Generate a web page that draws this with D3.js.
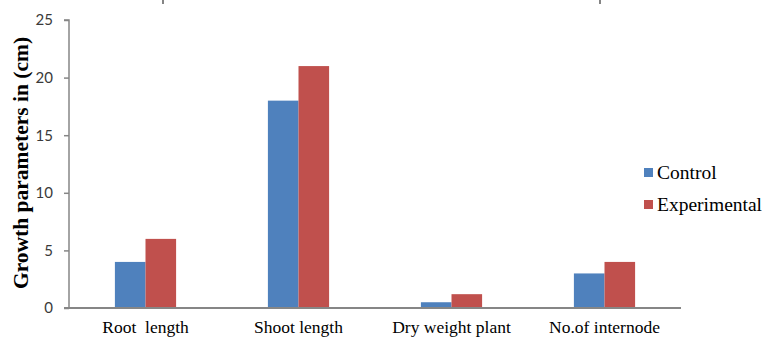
<!DOCTYPE html>
<html>
<head>
<meta charset="utf-8">
<script src="https://cdn.jsdelivr.net/npm/d3@7"></script>
<style>
  body { margin: 0; background: #fff; }
  svg { display: block; }
  .serif { font-family: 'Liberation Serif', 'Times New Roman', serif; }
</style>
</head>
<body>
<div id="chart"></div>
<script>
// chart data
let categories = ['Root  length', 'Shoot length', 'Dry weight plant', 'No.of internode'];
let seriesNames = ['Control', 'Experimental'];
let controlValues = [4, 18, 0.5, 3];
let experimentalValues = [6, 21, 1.2, 4];
let yTicks = [0, 5, 10, 15, 20, 25];

let width = 762,
  height = 338;
let margin = { top: 20, right: 81, bottom: 30, left: 69 };
let colors = ['#4f81bd', '#c0504d'];

let svg = d3.select('#chart')
  .append('svg')
  .attr('width', width)
  .attr('height', height);

// x scale for the groups, inner scale for the two series
let xScale = d3.scaleBand()
  .domain(categories)
  .range([margin.left, width - margin.right]);

let inner = d3.scaleBand()
  .domain(seriesNames)
  .range([xScale.bandwidth() * 0.3, xScale.bandwidth() * 0.7]);

let yScale = d3.scaleLinear()
  .domain([0, 25])
  .range([height - margin.bottom, margin.top]);

let rows = categories.map(function (c, i) {
  return { cat: c, values: [controlValues[i], experimentalValues[i]] };
});

// bars
let groups = svg.selectAll('.group')
  .data(rows)
  .enter()
  .append('g')
  .attr('class', 'group')
  .attr('transform', function (d) { return 'translate(' + xScale(d.cat) + ',0)'; });

groups.selectAll('rect')
  .data(function (d) { return d.values.map(function (v, i) { return { name: seriesNames[i], value: v }; }); })
  .enter()
  .append('rect')
  .attr('x', function (d) { return inner(d.name); })
  .attr('width', inner.bandwidth())
  .attr('y', function (d) { return yScale(d.value); })
  .attr('height', function (d) { return yScale(0) - yScale(d.value); })
  .style('fill', function (d, i) { return colors[i]; });

// y axis
let yAxis = d3.axisLeft(yScale).tickValues(yTicks).tickSize(5).tickPadding(11);
let yg = svg.append('g')
  .attr('transform', 'translate(' + margin.left + ',0)')
  .call(yAxis);
yg.select('.domain').attr('stroke', '#868686').attr('stroke-width', 1.5).attr('d', 'M-5,' + yScale(25) + 'H0V' + yScale(0));
yg.selectAll('.tick line').attr('stroke', '#868686').attr('stroke-width', 1.5);
yg.selectAll('.tick text')
  .style('font-family', 'Lato, "Open Sans", sans-serif')
  .style('font-size', '15px')
  .style('fill', '#3a3a3a');

// x baseline (no ticks)
svg.append('line')
  .attr('x1', margin.left - 5)
  .attr('x2', width - margin.right)
  .attr('y1', yScale(0))
  .attr('y2', yScale(0))
  .attr('stroke', '#868686')
  .attr('stroke-width', 2);

// category labels
svg.selectAll('.xlabel')
  .data(categories)
  .enter()
  .append('text')
  .attr('class', 'xlabel serif')
  .attr('x', function (d) { return xScale(d) + xScale.bandwidth() / 2; })
  .attr('y', 333)
  .attr('text-anchor', 'middle')
  .style('font-size', '17.5px')
  .style('white-space', 'pre')
  .attr('xml:space', 'preserve')
  .text(function (d) { return d; });

// y axis title
svg.append('text')
  .attr('class', 'serif')
  .attr('transform', 'rotate(-90)')
  .attr('x', -163)
  .attr('y', 28)
  .attr('text-anchor', 'middle')
  .style('font-weight', 'bold')
  .style('font-size', '21.5px')
  .text('Growth parameters in (cm)');

// legend
let legend = svg.selectAll('.legend')
  .data(seriesNames)
  .enter()
  .append('g')
  .attr('class', 'legend')
  .attr('transform', function (d, i) { return 'translate(644,' + (172 + i * 32) + ')'; });

legend.append('rect')
  .attr('x', 0)
  .attr('y', -4)
  .attr('width', 9)
  .attr('height', 9)
  .style('fill', function (d, i) { return colors[i]; });

legend.append('text')
  .attr('class', 'serif')
  .attr('x', 13)
  .attr('y', 0)
  .attr('dy', '.35em')
  .style('font-size', '19.5px')
  .text(function (d) { return d; });

// clipped marks from the cropped title above
[163, 600].forEach(function (x) {
  svg.append('line')
    .attr('x1', x).attr('x2', x)
    .attr('y1', 0).attr('y2', 4)
    .attr('stroke', '#333')
    .attr('stroke-width', 1.2);
});
</script>
</body>
</html>
